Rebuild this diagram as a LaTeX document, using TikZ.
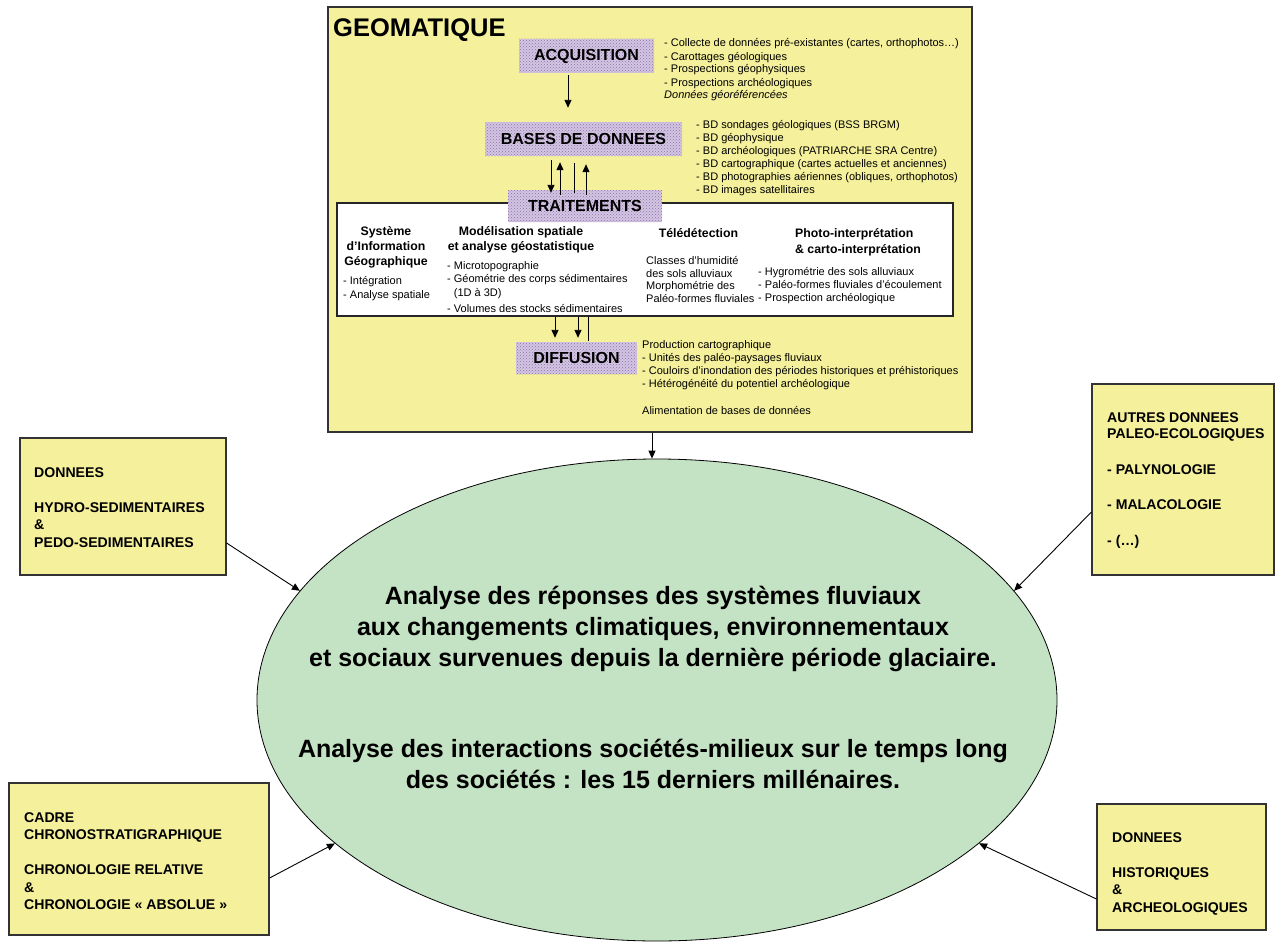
\documentclass[tikz,border=0pt]{standalone}
\usepackage{fontspec}
\setmainfont{Liberation Sans}
\usetikzlibrary{arrows.meta,shapes.geometric,patterns}
\definecolor{geoyellow}{RGB}{245,240,155}
\definecolor{ellgreen}{RGB}{196,226,196}
\definecolor{lav}{RGB}{212,198,226}
\definecolor{purp}{RGB}{140,112,172}
\tikzset{
 ybox/.style={draw=black!80, line width=1.2pt, fill=geoyellow, inner sep=0pt},
 wbox/.style={draw=black!85, line width=1.2pt, fill=white, inner sep=0pt},
 pbox/.style={preaction={fill=lav}, pattern=crosshatch dots, pattern color=purp, inner sep=0pt, font=\fontsize{16}{19}\selectfont\bfseries},
 lst/.style={font=\fontsize{11}{13}\selectfont, align=left, inner sep=0pt, anchor=base west},
 itm/.style={font=\fontsize{11}{13.5}\selectfont, align=left, inner sep=0pt, anchor=base west},
 hdr/.style={font=\fontsize{12.3}{15}\selectfont\bfseries, inner sep=0pt, anchor=base},
 btxt/.style={font=\fontsize{14.1}{17.5}\selectfont\bfseries, align=left, inner sep=0pt, anchor=base west},
 arr/.style={-{Triangle[length=8pt,width=7pt]}, line width=0.9pt},
 conn/.style={line width=0.9pt},
}
\begin{document}
\begin{tikzpicture}[x=1pt,y=-1pt]
\useasboundingbox (0,0) rectangle (1285,942);

% ---------- central ellipse ----------
\node[ellipse, draw=black, line width=0.8pt, fill=ellgreen, minimum width=800pt, minimum height=482pt, inner sep=0pt] (ell) at (657,700) {};
\node[font=\fontsize{25}{31}\selectfont\bfseries, align=center, inner sep=0pt, anchor=base] (elltxt) at (653,788)
 {Analyse des réponses des systèmes fluviaux\\
  aux changements climatiques, environnementaux\\
  et sociaux survenues depuis la dernière période glaciaire.\\[60pt]
  Analyse des interactions sociétés-milieux sur le temps long\\
  des sociétés : les 15 derniers millénaires.};

% ---------- GEOMATIQUE frame ----------
\node[ybox, minimum width=644pt, minimum height=425pt] (geo) at (650,219.5) {};
\node[font=\fontsize{25.5}{28}\selectfont\bfseries, inner sep=0pt, anchor=base west] (geotitle) at (333,37) {GEOMATIQUE};

\node[pbox, minimum width=135pt, minimum height=34pt] (acq) at (586.5,56) {ACQUISITION};
\node[lst] (acqlist) at (664,99)
 {- Collecte de données pré-existantes (cartes, orthophotos…)\\
  - Carottages géologiques\\
  - Prospections géophysiques\\
  - Prospections archéologiques\\
  \textit{Données géoréférencées}};

\node[pbox, minimum width=197pt, minimum height=34pt] (bdd) at (583.5,139) {BASES DE DONNEES};
\node[lst] (bddlist) at (696,193)
 {- BD sondages géologiques (BSS BRGM)\\
  - BD géophysique\\
  - BD archéologiques (PATRIARCHE SRA Centre)\\
  - BD cartographique (cartes actuelles et anciennes)\\
  - BD photographies aériennes (obliques, orthophotos)\\
  - BD images satellitaires};

% white processing box
\node[wbox, minimum width=616pt, minimum height=113pt] (wb) at (645,259.5) {};
\node[pbox, minimum width=154pt, minimum height=32pt] (trt) at (585,206) {TRAITEMENTS};

\node[hdr, align=center] (sigh) at (386,265.4) {Système\\d’Information\\Géographique};
\node[itm, font=\fontsize{11}{14}\selectfont] (sigi) at (343,298) {- Intégration\\- Analyse spatiale};

\node[hdr, align=center] (modh) at (521,250.4) {Modélisation spatiale\\et analyse géostatistique};
\node[itm] (modi) at (447,312) {- Microtopographie\\- Géométrie des corps sédimentaires\\\hphantom{- }(1D à 3D)\\[2.5pt]- Volumes des stocks sédimentaires};

\node[hdr] (telh) at (698.5,237.4) {Télédétection};
\node[itm, font=\fontsize{11}{12.5}\selectfont] (teli) at (646,302) {Classes d’humidité\\des sols alluviaux\\Morphométrie des\\Paléo-formes fluviales};

\node[hdr, align=left, anchor=base west, font=\fontsize{12.3}{15.5}\selectfont\bfseries] (phoh) at (795,253.4) {Photo-interprétation\\\& carto-interprétation};
\node[itm, font=\fontsize{11}{13}\selectfont] (phoi) at (758,301) {- Hygrométrie des sols alluviaux\\- Paléo-formes fluviales d’écoulement\\- Prospection archéologique};

\node[pbox, minimum width=121pt, minimum height=32pt] (dif) at (576.5,358) {DIFFUSION};
\node[lst] (diflist) at (642,414)
 {Production cartographique\\
  - Unités des paléo-paysages fluviaux\\
  - Couloirs d’inondation des périodes historiques et préhistoriques\\
  - Hétérogénéité du potentiel archéologique\\[14pt]
  Alimentation de bases de données};

% arrows inside GEOMATIQUE
\draw[arr] ([xshift=-18.5pt,yshift=-2pt]acq.south) -- ([xshift=-15.5pt,yshift=14pt]bdd.north);
\draw[arr] ([xshift=-32.5pt,yshift=-4pt]bdd.south) -- ([xshift=-34pt,yshift=-3pt]trt.north);
\draw[arr] ([xshift=-25pt,yshift=-5pt]trt.north) -- ([xshift=-23.5pt,yshift=-6pt]bdd.south);
\draw[conn] ([xshift=-9.5pt,yshift=-7pt]bdd.south) -- ([xshift=-11pt,yshift=-3pt]trt.north);
\draw[arr] ([xshift=1pt,yshift=-5pt]trt.north) -- ([xshift=2.5pt,yshift=-8pt]bdd.south);

\draw[arr] ([xshift=-90pt]wb.south) -- ([xshift=-21.5pt,yshift=4pt]dif.north);
\draw[arr] ([xshift=-67pt]wb.south) -- ([xshift=1.5pt,yshift=4pt]dif.north);
\draw[conn] ([xshift=-57pt]wb.south) -- ([xshift=11.5pt,yshift=1pt]dif.north);

\draw[arr] ([xshift=2pt]geo.south) -- ([xshift=2pt]geo.south |- ell.north);

% ---------- side boxes ----------
\node[ybox, minimum width=206pt, minimum height=137pt] (boxA) at (123,506.5) {};
\node[btxt] (txtA) at (34,547) {DONNEES\\[17pt]HYDRO-SEDIMENTAIRES\\\&\\PEDO-SEDIMENTAIRES};

\node[ybox, minimum width=182pt, minimum height=191pt] (boxB) at (1183,479.5) {};
\node[btxt, font=\fontsize{14.1}{16.5}\selectfont\bfseries] (txtB) at (1107,545) {AUTRES DONNEES\\PALEO-ECOLOGIQUES\\[19pt]- PALYNOLOGIE\\[19pt]- MALACOLOGIE\\[19pt]- (…)};

\node[ybox, minimum width=260pt, minimum height=152pt] (boxC) at (139,859) {};
\node[btxt] (txtC) at (24,909.5) {CADRE\\CHRONOSTRATIGRAPHIQUE\\[17.5pt]CHRONOLOGIE RELATIVE\\\&\\CHRONOLOGIE «~ABSOLUE~»};

\node[ybox, minimum width=169pt, minimum height=126pt] (boxD) at (1181.5,867) {};
\node[btxt] (txtD) at (1112,912) {DONNEES\\[17.5pt]HISTORIQUES\\\&\\ARCHEOLOGIQUES};

\draw[arr] ([yshift=-36.5pt]boxA.east) -- (ell.163);
\draw[arr] ([yshift=-32.5pt]boxB.west) -- (ell.17);
\draw[arr] ([yshift=-19pt]boxC.east) -- (ell.204);
\draw[arr] ([yshift=-32pt]boxD.west) -- (ell.-24);
\end{tikzpicture}
\end{document}
